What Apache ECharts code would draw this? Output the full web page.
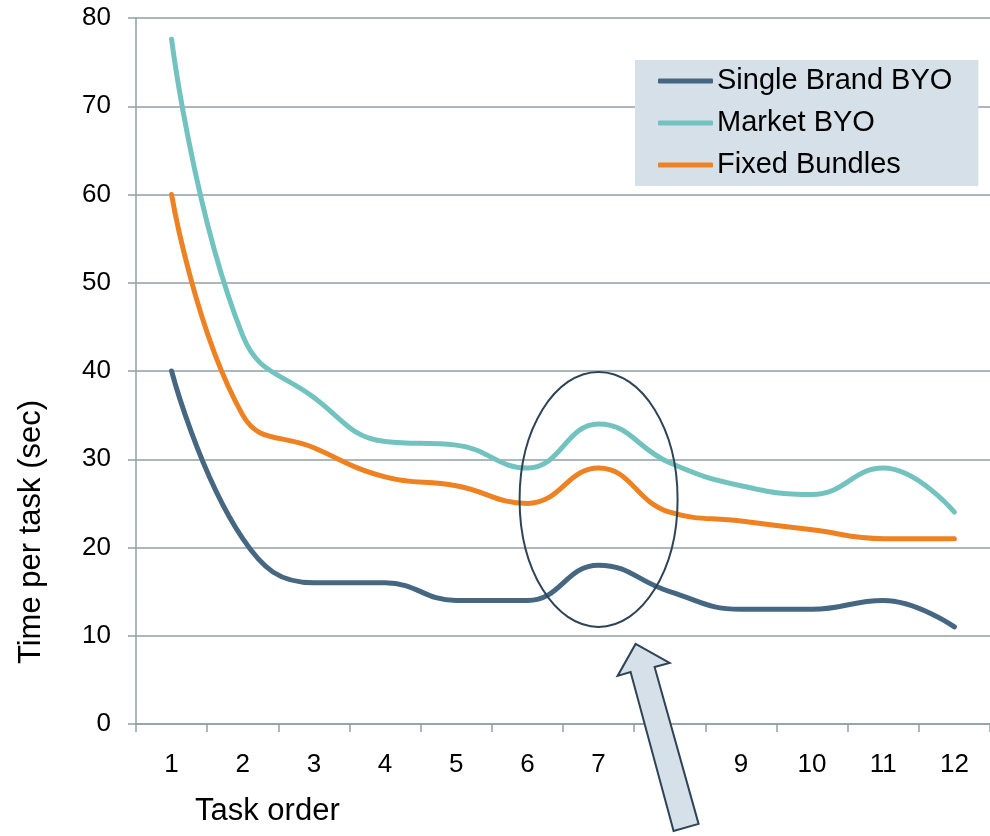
<!DOCTYPE html>
<html>
<head>
<meta charset="utf-8">
<script src="https://cdn.jsdelivr.net/npm/echarts@6/dist/echarts.min.js"></script>
<style>
  html, body { margin: 0; padding: 0; background: #ffffff; }
  #chart { width: 990px; height: 836px; }
</style>
</head>
<body>
<div id="chart"></div>
<script>
// Task order on the x axis (1..12)
const taskOrder = ['1', '2', '3', '4', '5', '6', '7', '8', '9', '10', '11', '12'];

// Mean time per task in seconds, per design
const singleBrandBYO = [40, 21, 16, 16, 14, 14, 18, 15, 13, 13, 14, 11];
const marketBYO      = [77.6, 44, 37, 32, 31.6, 29, 34, 29.6, 27, 26, 29, 24];
const fixedBundles   = [60, 35, 31.3, 28, 27, 25, 29, 24, 23, 22, 21, 21];

const seriesNames = ['Single Brand BYO', 'Market BYO', 'Fixed Bundles'];
const seriesColors = ['#466782', '#72c3c0', '#ee8121'];

// Highlight around task 7: category, and value range covered by the ring
const focusTask = '7';
const focusLow = 11;
const focusHigh = 39.9;

const FONT = 'Liberation Sans, Arial, sans-serif';
const GRID_COLOR = '#8fa0a5';

const chart = echarts.init(document.getElementById('chart'), null, { renderer: 'canvas' });

const seriesData = [singleBrandBYO, marketBYO, fixedBundles];

chart.setOption({
  animation: false,
  backgroundColor: '#ffffff',
  grid: { left: 136, right: -1, top: 18, bottom: 112, containLabel: false },
  legend: {
    orient: 'vertical',
    left: 635,
    top: 60,
    padding: [5, 26, 5, 23],
    backgroundColor: '#d6e0e8',
    itemWidth: 55,
    itemHeight: 5,
    itemGap: 10,
    icon: 'roundRect',
    data: seriesNames,
    textStyle: { fontFamily: FONT, fontSize: 29, color: '#000000', lineHeight: 32, padding: [0, 0, 0, -1] }
  },
  xAxis: {
    type: 'category',
    data: taskOrder,
    boundaryGap: true,
    axisLine: { lineStyle: { color: GRID_COLOR, width: 1.5 } },
    axisTick: { show: true, length: 8, alignWithLabel: false, lineStyle: { color: GRID_COLOR, width: 1.5 } },
    axisLabel: { margin: 28, fontFamily: FONT, fontSize: 26, color: '#000000' },
    splitLine: { show: false }
  },
  yAxis: {
    type: 'value',
    min: 0,
    max: 80,
    interval: 10,
    axisLine: { show: true, lineStyle: { color: GRID_COLOR, width: 1.5 } },
    axisTick: { show: true, length: 8, lineStyle: { color: GRID_COLOR, width: 1.5 } },
    axisLabel: { margin: 25, fontFamily: FONT, fontSize: 26, color: '#000000' },
    splitLine: { show: true, lineStyle: { color: GRID_COLOR, width: 1.5 } }
  },
  series: seriesNames.map((name, i) => ({
    name: name,
    type: 'line',
    data: seriesData[i],
    smooth: 0.45,
    showSymbol: false,
    symbol: 'none',
    lineStyle: { color: seriesColors[i], width: 5, cap: 'round' },
    itemStyle: { color: seriesColors[i] },
    z: 3
  }))
});

// Axis titles, ring around task 7 and the pointer arrow
function drawAnnotations() {
  const center = chart.convertToPixel({ gridIndex: 0 }, [focusTask, (focusLow + focusHigh) / 2]);
  const top = chart.convertToPixel({ gridIndex: 0 }, [focusTask, focusHigh]);
  const bottom = chart.convertToPixel({ gridIndex: 0 }, [focusTask, focusLow]);
  const next = chart.convertToPixel({ gridIndex: 0 }, ['8', 0]);
  const step = next[0] - center[0];
  const rx = step * 1.11;
  const ry = (bottom[1] - top[1]) / 2;

  // Block arrow pointing up-left toward the ring, defined relative to its tip
  const tip = [center[0] + step * 0.52, bottom[1] + 17];
  const arrowPoints = [
    [0, 0], [34, 19], [19, 23], [63, 180], [38, 187], [-5, 28], [-18, 32]
  ].map(p => [tip[0] + p[0], tip[1] + p[1]]);

  chart.setOption({
    graphic: [
      {
        type: 'text',
        left: 195,
        top: 796,
        style: { text: 'Task order', font: '31px ' + FONT, fill: '#000000' },
        z: 10
      },
      {
        type: 'text',
        x: 31,
        y: 532,
        rotation: Math.PI / 2,
        style: {
          text: 'Time per task (sec)',
          font: '31px ' + FONT,
          fill: '#000000',
          align: 'center',
          verticalAlign: 'middle'
        },
        z: 10
      },
      {
        type: 'ellipse',
        shape: { cx: center[0], cy: center[1], rx: rx, ry: ry },
        style: { fill: 'none', stroke: '#2d4356', lineWidth: 2 },
        z: 20
      },
      {
        type: 'polygon',
        shape: { points: arrowPoints },
        style: { fill: '#d6e0e8', stroke: '#2d4356', lineWidth: 2, lineJoin: 'miter' },
        z: 20
      }
    ]
  });
}

drawAnnotations();
</script>
</body>
</html>
